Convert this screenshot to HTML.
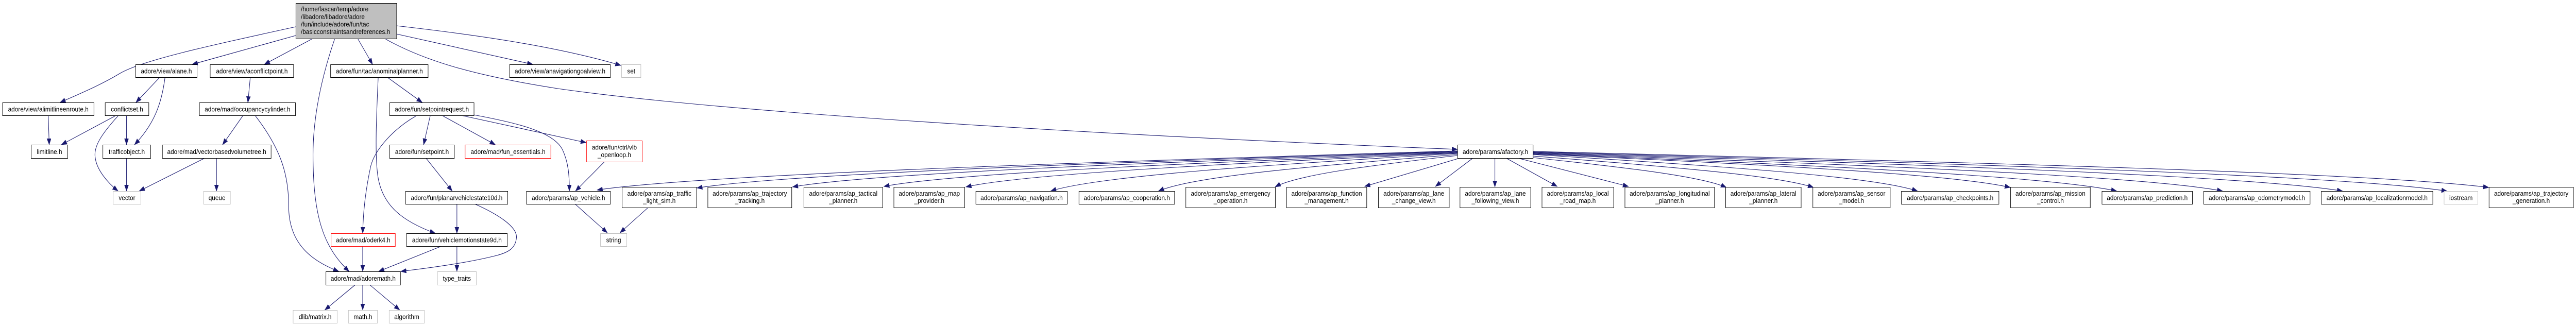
<!DOCTYPE html>
<html><head><meta charset="utf-8"><style>
html,body{margin:0;padding:0;background:#fff;width:100%;height:100%;overflow:hidden;}
svg{display:block;position:fixed;left:0;top:0;width:100vw;height:100vh;}
text{font-family:"Liberation Sans",Arial,sans-serif;font-size:13px;fill:#000;}
.e{fill:none;stroke:#191970;stroke-width:1.1;marker-end:url(#ah);}
.n{fill:#fff;stroke:#000;stroke-width:1;}
.g{fill:#fff;stroke:#bfbfbf;stroke-width:1;}
.r{fill:#fff;stroke:#ff0000;stroke-width:1;}
.c{text-anchor:middle;}
</style></head><body>
<svg viewBox="0 0 5497 633" preserveAspectRatio="none" xmlns="http://www.w3.org/2000/svg">
<defs>
<marker id="ah" markerUnits="userSpaceOnUse" markerWidth="13" markerHeight="10" refX="12" refY="4.5" orient="auto">
<path d="M0,0 L12,4.5 L0,9 z" fill="#191970" stroke="#191970" stroke-width="0.5"/>
</marker>
</defs>
<rect x="0" y="0" width="5497" height="633" fill="#fff"/>

<!-- edges -->
<path class="e" d="M631,52 C440,90 300,118 255,143 C215,165 170,182 128,199"/>
<path class="e" d="M631,69 L410,125"/>
<path class="e" d="M665,76 L564,125"/>
<path class="e" d="M714,76 C690,140 668,220 668,300 C668,420 690,480 745,527"/>
<path class="e" d="M764,76 L795,125"/>
<path class="e" d="M846,66 L1137,125"/>
<path class="e" d="M846,50 C1000,66 1180,88 1325,127"/>
<path class="e" d="M823,76 C900,115 1000,145 1190,172 C1600,225 2500,268 3110,290"/>
<path class="e" d="M340,151 L290,199"/>
<path class="e" d="M352,151 C345,200 330,240 287,281"/>
<path class="e" d="M103,225 L105,281"/>
<path class="e" d="M246,225 L131,281"/>
<path class="e" d="M270,225 L270,281"/>
<path class="e" d="M252,225 C215,262 200,285 203,305 C206,330 230,355 252,371"/>
<path class="e" d="M270,307 L270,371"/>
<path class="e" d="M534,151 L529,199"/>
<path class="e" d="M518,225 L475,281"/>
<path class="e" d="M545,225 C600,290 616,340 616,400 C616,470 660,505 723,527"/>
<path class="e" d="M437,307 L297,371"/>
<path class="e" d="M462,307 L462,371"/>
<path class="e" d="M828,151 L901,199"/>
<path class="e" d="M807,151 C803,230 800,300 806,340 C815,400 860,430 929,453"/>
<path class="e" d="M888,225 C840,250 800,290 791,323 C780,370 775,410 774,453"/>
<path class="e" d="M918,225 L904,281"/>
<path class="e" d="M945,225 L1057,281"/>
<path class="e" d="M984,224 L1251,277"/>
<path class="e" d="M1011,223 C1100,238 1180,255 1200,290 C1213,315 1215,340 1215,371"/>
<path class="e" d="M1290,314 L1228,371"/>
<path class="e" d="M909,307 L965,371"/>
<path class="e" d="M975,396 L975,453"/>
<path class="e" d="M1013,396 C1060,415 1105,440 1102,462 C1100,482 1085,490 1060,496 C1000,510 920,520 855,527"/>
<path class="e" d="M942,478 L808,527"/>
<path class="e" d="M975,478 L975,527"/>
<path class="e" d="M774,478 L774,527"/>
<path class="e" d="M1227,396 L1296,452"/>
<path class="e" d="M1383,403 L1323,452"/>
<path class="e" d="M758,553 L693,602"/>
<path class="e" d="M774,553 L774,602"/>
<path class="e" d="M789,553 L853,602"/>

<!-- afactory fan-out -->
<path class="e" d="M3110,293 C2284,316 1494,339 1274,369"/>
<path class="e" d="M3110,294 C2380,315 1682,337 1487,365"/>
<path class="e" d="M3110,295 C2471,315 1861,336 1691,363"/>
<path class="e" d="M3110,296 C2559,316 2033,336 1886,362"/>
<path class="e" d="M3110,297 C2638,317 2187,337 2061,363"/>
<path class="e" d="M3110,298 C2719,319 2346,341 2242,371"/>
<path class="e" d="M3110,300 C2823,321 2549,341 2472,371"/>
<path class="e" d="M3110,302 C2935,320 2768,339 2721,363"/>
<path class="e" d="M3115,307 L2912,362"/>
<path class="e" d="M3143,307 L3063,362"/>
<path class="e" d="M3190,307 L3190,363"/>
<path class="e" d="M3214,307 L3323,362"/>
<path class="e" d="M3239,307 L3475,362"/>
<path class="e" d="M3271,306 C3453,324 3627,341 3684,364"/>
<path class="e" d="M3271,303 C3538,322 3793,340 3870,364"/>
<path class="e" d="M3271,300 C3640,321 3993,341 4092,371"/>
<path class="e" d="M3271,299 C3727,318 4162,337 4290,364"/>
<path class="e" d="M3271,298 C3832,319 4367,341 4517,371"/>
<path class="e" d="M3271,297 C3933,319 4566,340 4743,371"/>
<path class="e" d="M3271,296 C4049,318 4792,340 4999,371"/>
<path class="e" d="M3271,295 C4149,317 4988,339 5222,371"/>
<path class="e" d="M3271,294 C4187,315 5063,335 5311,364"/>

<!-- nodes -->
<rect x="631.5" y="6.5" width="215" height="69" fill="#bfbfbf" stroke="#000" stroke-width="1"/>
<text x="642" y="22">/home/fascar/temp/adore</text>
<text x="642" y="37">/libadore/libadore/adore</text>
<text x="642" y="51.5">/fun/include/adore/fun/tac</text>
<text x="642" y="66">/basicconstraintsandreferences.h</text>

<rect class="n" x="289.5" y="125.5" width="131" height="25"/><text class="c" x="355" y="142.5">adore/view/alane.h</text>
<rect class="n" x="448.5" y="125.5" width="178" height="25"/><text class="c" x="537.5" y="142.5">adore/view/aconflictpoint.h</text>
<rect class="n" x="705.5" y="125.5" width="208" height="25"/><text class="c" x="809.5" y="142.5">adore/fun/tac/anominalplanner.h</text>
<rect class="n" x="1087.5" y="125.5" width="215" height="25"/><text class="c" x="1195" y="142.5">adore/view/anavigationgoalview.h</text>
<rect class="g" x="1326.5" y="125.5" width="41" height="25"/><text class="c" x="1347" y="142.5">set</text>

<rect class="n" x="5.5" y="199.5" width="195" height="25"/><text class="c" x="103" y="216.5">adore/view/alimitlineenroute.h</text>
<rect class="n" x="224.5" y="199.5" width="93" height="25"/><text class="c" x="271" y="216.5">conflictset.h</text>
<rect class="n" x="425.5" y="199.5" width="205" height="25"/><text class="c" x="528" y="216.5">adore/mad/occupancycylinder.h</text>
<rect class="n" x="831.5" y="199.5" width="180" height="25"/><text class="c" x="921.5" y="216.5">adore/fun/setpointrequest.h</text>

<rect class="n" x="66.5" y="281.5" width="78" height="26"/><text class="c" x="105.5" y="299">limitline.h</text>
<rect class="n" x="219.5" y="281.5" width="102" height="26"/><text class="c" x="270.5" y="299">trafficobject.h</text>
<rect class="n" x="346.5" y="281.5" width="232" height="26"/><text class="c" x="462.5" y="299">adore/mad/vectorbasedvolumetree.h</text>
<rect class="n" x="831.5" y="281.5" width="138" height="26"/><text class="c" x="900.5" y="299">adore/fun/setpoint.h</text>
<rect class="r" x="992.5" y="281.5" width="183" height="26"/><text class="c" x="1084" y="299">adore/mad/fun_essentials.h</text>
<rect class="r" x="1251.5" y="273.5" width="119" height="41"/><text class="c" x="1311" y="290.5">adore/fun/ctrl/vlb</text><text class="c" x="1311" y="305">_openloop.h</text>
<rect class="n" x="3110.5" y="281.5" width="161" height="26"/><text class="c" x="3191" y="299">adore/params/afactory.h</text>

<rect class="g" x="241.5" y="371.5" width="59" height="25"/><text class="c" x="271" y="388.5">vector</text>
<rect class="g" x="434.5" y="371.5" width="57" height="25"/><text class="c" x="463" y="388.5">queue</text>
<rect class="n" x="865.5" y="371.5" width="218" height="25"/><text class="c" x="974.5" y="388.5">adore/fun/planarvehiclestate10d.h</text>
<rect class="n" x="1123.5" y="371.5" width="179" height="25"/><text class="c" x="1213" y="388.5">adore/params/ap_vehicle.h</text>
<rect class="n" x="1327.5" y="363.5" width="159" height="40"/><text class="c" x="1407" y="380">adore/params/ap_traffic</text><text class="c" x="1407" y="394">_light_sim.h</text>
<rect class="n" x="1510.5" y="363.5" width="179" height="40"/><text class="c" x="1600" y="380">adore/params/ap_trajectory</text><text class="c" x="1600" y="394">_tracking.h</text>
<rect class="n" x="1715.5" y="363.5" width="168" height="40"/><text class="c" x="1799.5" y="380">adore/params/ap_tactical</text><text class="c" x="1799.5" y="394">_planner.h</text>
<rect class="n" x="1907.5" y="363.5" width="151" height="40"/><text class="c" x="1983" y="380">adore/params/ap_map</text><text class="c" x="1983" y="394">_provider.h</text>
<rect class="n" x="2082.5" y="371.5" width="195" height="25"/><text class="c" x="2180" y="388.5">adore/params/ap_navigation.h</text>
<rect class="n" x="2302.5" y="371.5" width="204" height="25"/><text class="c" x="2404.5" y="388.5">adore/params/ap_cooperation.h</text>
<rect class="n" x="2530.5" y="363.5" width="191" height="40"/><text class="c" x="2626" y="380">adore/params/ap_emergency</text><text class="c" x="2626" y="394">_operation.h</text>
<rect class="n" x="2745.5" y="363.5" width="171" height="40"/><text class="c" x="2831" y="380">adore/params/ap_function</text><text class="c" x="2831" y="394">_management.h</text>
<rect class="n" x="2941.5" y="363.5" width="151" height="40"/><text class="c" x="3017" y="380">adore/params/ap_lane</text><text class="c" x="3017" y="394">_change_view.h</text>
<rect class="n" x="3115.5" y="363.5" width="151" height="40"/><text class="c" x="3191" y="380">adore/params/ap_lane</text><text class="c" x="3191" y="394">_following_view.h</text>
<rect class="n" x="3290.5" y="363.5" width="153" height="40"/><text class="c" x="3367" y="380">adore/params/ap_local</text><text class="c" x="3367" y="394">_road_map.h</text>
<rect class="n" x="3467.5" y="363.5" width="191" height="40"/><text class="c" x="3563" y="380">adore/params/ap_longitudinal</text><text class="c" x="3563" y="394">_planner.h</text>
<rect class="n" x="3682.5" y="363.5" width="161" height="40"/><text class="c" x="3763" y="380">adore/params/ap_lateral</text><text class="c" x="3763" y="394">_planner.h</text>
<rect class="n" x="3868.5" y="363.5" width="165" height="40"/><text class="c" x="3951" y="380">adore/params/ap_sensor</text><text class="c" x="3951" y="394">_model.h</text>
<rect class="n" x="4057.5" y="371.5" width="208" height="25"/><text class="c" x="4161.5" y="388.5">adore/params/ap_checkpoints.h</text>
<rect class="n" x="4290.5" y="363.5" width="170" height="40"/><text class="c" x="4375.5" y="380">adore/params/ap_mission</text><text class="c" x="4375.5" y="394">_control.h</text>
<rect class="n" x="4485.5" y="371.5" width="193" height="25"/><text class="c" x="4582" y="388.5">adore/params/ap_prediction.h</text>
<rect class="n" x="4702.5" y="371.5" width="227" height="25"/><text class="c" x="4816" y="388.5">adore/params/ap_odometrymodel.h</text>
<rect class="n" x="4953.5" y="371.5" width="238" height="25"/><text class="c" x="5072.5" y="388.5">adore/params/ap_localizationmodel.h</text>
<rect class="g" x="5215.5" y="371.5" width="72" height="25"/><text class="c" x="5251.5" y="388.5">iostream</text>
<rect class="n" x="5311.5" y="363.5" width="180" height="40"/><text class="c" x="5401.5" y="380">adore/params/ap_trajectory</text><text class="c" x="5401.5" y="394">_generation.h</text>

<rect class="r" x="706.5" y="453.5" width="137" height="25"/><text class="c" x="775" y="470.5">adore/mad/oderk4.h</text>
<rect class="n" x="867.5" y="453.5" width="215" height="25"/><text class="c" x="975" y="470.5">adore/fun/vehiclemotionstate9d.h</text>
<rect class="g" x="1281.5" y="453.5" width="56" height="25"/><text class="c" x="1309.5" y="470.5">string</text>

<rect class="n" x="695.5" y="527.5" width="159" height="26"/><text class="c" x="775" y="545">adore/mad/adoremath.h</text>
<rect class="g" x="933.5" y="527.5" width="83" height="26"/><text class="c" x="975" y="545">type_traits</text>

<rect class="g" x="625.5" y="602.5" width="94" height="25"/><text class="c" x="672.5" y="619.5">dlib/matrix.h</text>
<rect class="g" x="743.5" y="602.5" width="62" height="25"/><text class="c" x="774.5" y="619.5">math.h</text>
<rect class="g" x="830.5" y="602.5" width="75" height="25"/><text class="c" x="868" y="619.5">algorithm</text>
</svg>
</body></html>
